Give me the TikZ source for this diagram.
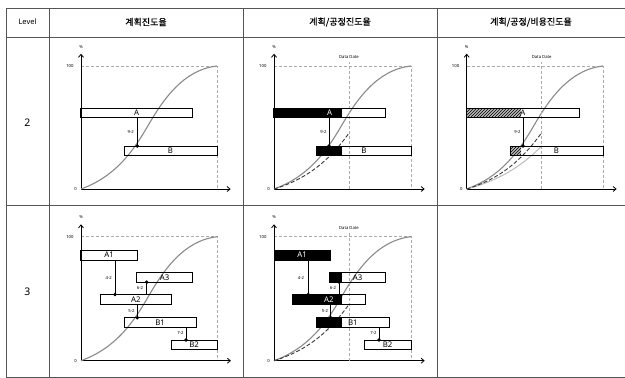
\documentclass[tikz,border=0pt]{standalone}
\usepackage{fontspec}
\setmainfont{Noto Sans}
\newfontfamily\krfont[FakeBold=0.4]{Noto Sans CJK KR}
\usetikzlibrary{arrows.meta,patterns}
\definecolor{tblline}{HTML}{555555}
\definecolor{plancol}{HTML}{8A8A8A}
\definecolor{actcol}{HTML}{3A3A3A}
\definecolor{costcol}{HTML}{BDBDBD}
\definecolor{gridcol}{HTML}{AAAAAA}
\newcommand{\scurve}{(0,0) .. controls (0.25,0.1) and (0.38,0.3) .. (0.49,0.51) .. controls (0.6,0.72) and (0.75,0.97) .. (1,1)}
\newcommand{\chartbase}[5]{%
\begin{scope}[chartcs={#2}{#3}{#4}{#5}]
 \draw[gridline] (0,1) -- (1,1) -- (1,0);
 \draw[axisline] (0,0) -- (1.1,0);
 \draw[axisline] (0,0) -- (0,1.1);
 \node[ticklbl, anchor=east] (#1-100) at (-0.05,1) {100};
 \node[ticklbl, anchor=east] (#1-0) at (-0.025,0) {0};
 \node[ticklbl] (#1-pct) at (0,1.155) {\%};
 \draw[planline] \scurve;
\end{scope}}
\newcommand{\datadate}[6]{%
\begin{scope}[chartcs={#2}{#3}{#4}{#5}]
 \draw[gridline] (#6,0) -- (#6,1.03);
 \node[ticklbl] (#1-dd) at (#6,1.07) {Data Date};
\end{scope}}
\newcommand{\taskbar}[6]{%
 \node[barbox, minimum width={(#3-#2)*1pt}, minimum height=#5pt, anchor=north west] (#1) at (#2,#4) {};
 \node[barlbl] (#1-lbl) at (#1.center) {#6};}
\begin{document}
\begin{tikzpicture}[x=1pt,y=-1pt,
  chartcs/.style n args={4}{shift={(#1,#2)},x=#3pt,y=#4pt},
  tbl/.style={draw=tblline,line width=1pt},
  gridline/.style={draw=gridcol,line width=0.6pt,dash pattern=on 3pt off 2pt},
  axisline/.style={draw=black,line width=0.8pt,-{Straight Barb[length=3pt,width=5pt]}},
  planline/.style={draw=plancol,line width=1.1pt},
  actline/.style={draw=actcol,line width=0.9pt,dash pattern=on 4pt off 2pt},
  costline/.style={draw=costcol,line width=1pt},
  ticklbl/.style={font=\fontsize{4.2}{5}\selectfont,inner sep=0.5pt},
  barbox/.style={draw=black,line width=0.6pt,inner sep=0pt,outer sep=0pt},
  barlbl/.style={font=\fontsize{7.8}{8}\selectfont,inner sep=0pt},
  link/.style={draw=black,line width=0.7pt,-{Circle[length=3.6pt,width=3.6pt]},shorten >=-1.8pt},
  linklbl/.style={font=\fontsize{4.2}{5}\selectfont,inner sep=0.5pt},
  hdr/.style={font=\fontsize{9}{10}\selectfont,inner sep=0pt},
  hatchfill/.style={fill=gray!55,postaction={pattern=north east lines,pattern color=black}}
]
\useasboundingbox (0,0) rectangle (625,378);
\fill[white] (0,0) rectangle (625,378);
% table
\foreach \yy in {8,37,205,377} \draw[tbl] (6,\yy) -- (625,\yy);
\foreach \xx in {6,49,243,437} \draw[tbl] (\xx,8) -- (\xx,377);
\node[hdr,font=\fontsize{7.5}{8}\selectfont] (h0) at (27.5,22) {Level};
\node[hdr] (h1) at (146,22) {\krfont 계획진도율};
\node[hdr] (h2) at (340,22) {\krfont 계획/공정진도율};
\node[hdr] (h3) at (531,22) {\krfont 계획/공정/비용진도율};
\node[hdr,font=\fontsize{10.5}{11}\selectfont] (lv2) at (27.5,123) {2};
\node[hdr,font=\fontsize{10.5}{11}\selectfont] (lv3) at (27.5,292) {3};

% ---------- chart 1 ----------
\chartbase{c1}{81}{189}{136}{123}
\taskbar{c1A}{80.7}{192.7}{108}{9}{A}
\taskbar{c1B}{124}{217}{146}{9}{B}
\draw[link] (137.3,0 |- c1A.south) -- (137.3,0 |- c1B.north);
\node[linklbl] (c1l) at (130.7,131.7) {9-2};

% ---------- chart 2 ----------
\chartbase{c2}{274}{189}{137}{123}
\datadate{c2}{274}{189}{137}{123}{0.547}
\begin{scope}[chartcs={274}{189}{137}{123}]
 \clip (-0.01,-0.05) rectangle (0.547,1.1);
 \draw[actline,xscale=1.19] \scurve;
\end{scope}
\fill[black] (273.5,108) rectangle (341.7,117);
\fill[black] (316.7,146) rectangle (341.7,155);
\taskbar{c2A}{273.5}{385.7}{108}{9}{\color{white}A}
\taskbar{c2B}{316.7}{411}{146}{9}{B}
\draw[link] (329,0 |- c2A.south) -- (329,0 |- c2B.north);
\node[linklbl] (c2l) at (323.5,131.7) {9-2};

% ---------- chart 3 ----------
\chartbase{c3}{466.7}{189}{136.3}{123}
\datadate{c3}{466.7}{189}{136.3}{123}{0.55}
\begin{scope}[chartcs={466.7}{189}{136.3}{123}]
 \clip (-0.01,-0.05) rectangle (0.55,1.1);
 \draw[costline,xscale=1.38] \scurve;
 \draw[actline,xscale=1.19] \scurve;
\end{scope}
\fill[hatchfill] (466.7,108) rectangle (521,117);
\fill[hatchfill] (510,146) rectangle (521,155);
\taskbar{c3A}{466.7}{579}{108}{9}{A}
\taskbar{c3B}{510}{603}{146}{9}{B}
\draw[link] (523,0 |- c3A.south) -- (523,0 |- c3B.north);
\node[linklbl] (c3l) at (517.5,131.7) {9-2};

% ---------- chart 4 ----------
\chartbase{c4}{81}{360.7}{136.3}{124}
\taskbar{c4A1}{80.7}{137.3}{250.3}{9.5}{A1}
\taskbar{c4A3}{136.7}{192.7}{272.7}{9.5}{A3}
\taskbar{c4A2}{100}{171.7}{294.5}{9.5}{A2}
\taskbar{c4B1}{124.3}{196}{317.7}{9.5}{B1}
\taskbar{c4B2}{171}{217.3}{340}{9.5}{B2}
\draw[link] (115,0 |- c4A1.south) -- (115,0 |- c4A2.north);
\draw[link] (146.7,0 |- c4A2.north) -- (146.7,0 |- c4A3.south);
\draw[link] (137.3,0 |- c4A2.south) -- (137.3,0 |- c4B1.north);
\draw[link] (186,0 |- c4B1.south) -- (186,0 |- c4B2.north);
\node[linklbl] (c4l1) at (108.7,277.7) {4-2};
\node[linklbl] (c4l2) at (140,288.3) {6-2};
\node[linklbl] (c4l3) at (131.5,311) {5-2};
\node[linklbl] (c4l4) at (180.5,332.7) {7-2};

% ---------- chart 5 ----------
\chartbase{c5}{274}{360.7}{137}{124}
\datadate{c5}{274}{360.7}{137}{124}{0.547}
\begin{scope}[chartcs={274}{360.7}{137}{124}]
 \clip (-0.01,-0.05) rectangle (0.547,1.1);
 \draw[actline,xscale=1.19] \scurve;
\end{scope}
\fill[black] (274,250.3) rectangle (330,259.8);
\fill[black] (329.3,272.7) rectangle (341.7,282.2);
\fill[black] (292.7,294.5) rectangle (341.7,304);
\fill[black] (316.7,317.7) rectangle (341.7,327.2);
\taskbar{c5A1}{274}{330}{250.3}{9.5}{\color{white}A1}
\taskbar{c5A3}{329.3}{385.7}{272.7}{9.5}{A3}
\taskbar{c5A2}{292.7}{365}{294.5}{9.5}{\color{white}A2}
\taskbar{c5B1}{316.7}{389}{317.7}{9.5}{B1}
\taskbar{c5B2}{364.3}{411}{340}{9.5}{B2}
\draw[link] (308.3,0 |- c5A1.south) -- (308.3,0 |- c5A2.north);
\draw[link] (339.3,0 |- c5A2.north) -- (339.3,0 |- c5A3.south);
\draw[link] (330.7,0 |- c5A2.south) -- (330.7,0 |- c5B1.north);
\draw[link] (379,0 |- c5B1.south) -- (379,0 |- c5B2.north);
\node[linklbl] (c5l1) at (301,277.7) {4-2};
\node[linklbl] (c5l2) at (333,288.3) {6-2};
\node[linklbl] (c5l3) at (325,311) {5-2};
\node[linklbl] (c5l4) at (373.5,332.7) {7-2};
\end{tikzpicture}
\end{document}
